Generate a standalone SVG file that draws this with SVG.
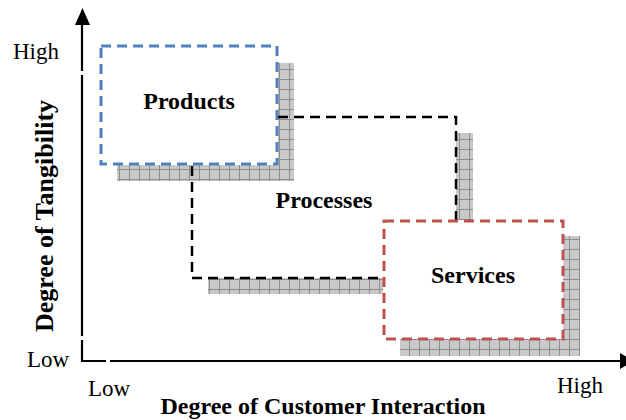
<svg xmlns="http://www.w3.org/2000/svg" width="626" height="420" viewBox="0 0 626 420">
<defs>
<pattern id="grid" patternUnits="userSpaceOnUse" width="10" height="10" x="0" y="0">
<rect width="10" height="10" fill="#c9c9c9"/>
<path d="M9.5 0V10M0 9.5H10" stroke="#8e8e8e" stroke-width="1"/>
</pattern>
<marker id="ah" viewBox="0 0 10 10" refX="10" refY="5" markerWidth="5" markerHeight="5" orient="auto" markerUnits="strokeWidth">
<path d="M0 0L10 5L0 10Z" fill="#000"/>
</marker>
</defs>
<style>
.shadow{fill:url(#grid);}
.box{fill:none;stroke-width:3;stroke-dasharray:10 6;}
.blue{stroke:#4f81bd;}
.red{stroke:#c0504d;}
.blk{fill:none;stroke:#000;stroke-width:2.5;stroke-dasharray:10 6;}
.axis{stroke:#000;stroke-width:2.2;fill:none;}
.lbl{font-family:"Liberation Serif","Times New Roman",serif;font-weight:bold;fill:#000;}
.tick{font-family:"Liberation Serif","Times New Roman",serif;font-size:23px;fill:#000;}
</style>

<g id="axes">
<path class="axis" d="M82 360V340M82 336V75M82 71V24"/>
<path d="M75 25L82.5 8L90 25Z" fill="#000"/>
<path class="axis" d="M81 361H106M110 361H621"/>
<path d="M620 353L634 361L620 369Z" fill="#000"/>
</g>

<g id="products">
<path class="shadow" d="M278 63H294V181H117V165H278Z"/>
<rect class="box blue" x="101" y="46" width="176" height="118"/>
<text class="lbl" x="189" y="109" font-size="24" text-anchor="middle">Products</text>
</g>

<g id="processes">
<path class="shadow" d="M456 133H473V220H456Z"/>
<path class="shadow" d="M208 278H383V294H208Z"/>
<path class="blk" d="M278 117H456V220"/>
<path class="blk" d="M192 166V278H383"/>
<text class="lbl" x="324" y="208" font-size="24" text-anchor="middle">Processes</text>
</g>

<g id="services">
<path class="shadow" d="M563 236H580V356H400V339H563Z"/>
<rect class="box red" x="384" y="221" width="179" height="118"/>
<text class="lbl" x="473" y="283" font-size="24" text-anchor="middle">Services</text>
</g>

<g id="labels">
<text class="tick" x="13" y="59">High</text>
<text class="tick" x="27" y="367">Low</text>
<text class="tick" x="88" y="396">Low</text>
<text class="tick" x="557" y="393">High</text>
<text class="lbl" x="323" y="414" font-size="24" text-anchor="middle">Degree of Customer Interaction</text>
<text class="lbl" transform="translate(53 216) rotate(-90)" font-size="26" text-anchor="middle">Degree of Tangibility</text>
</g>
</svg>
